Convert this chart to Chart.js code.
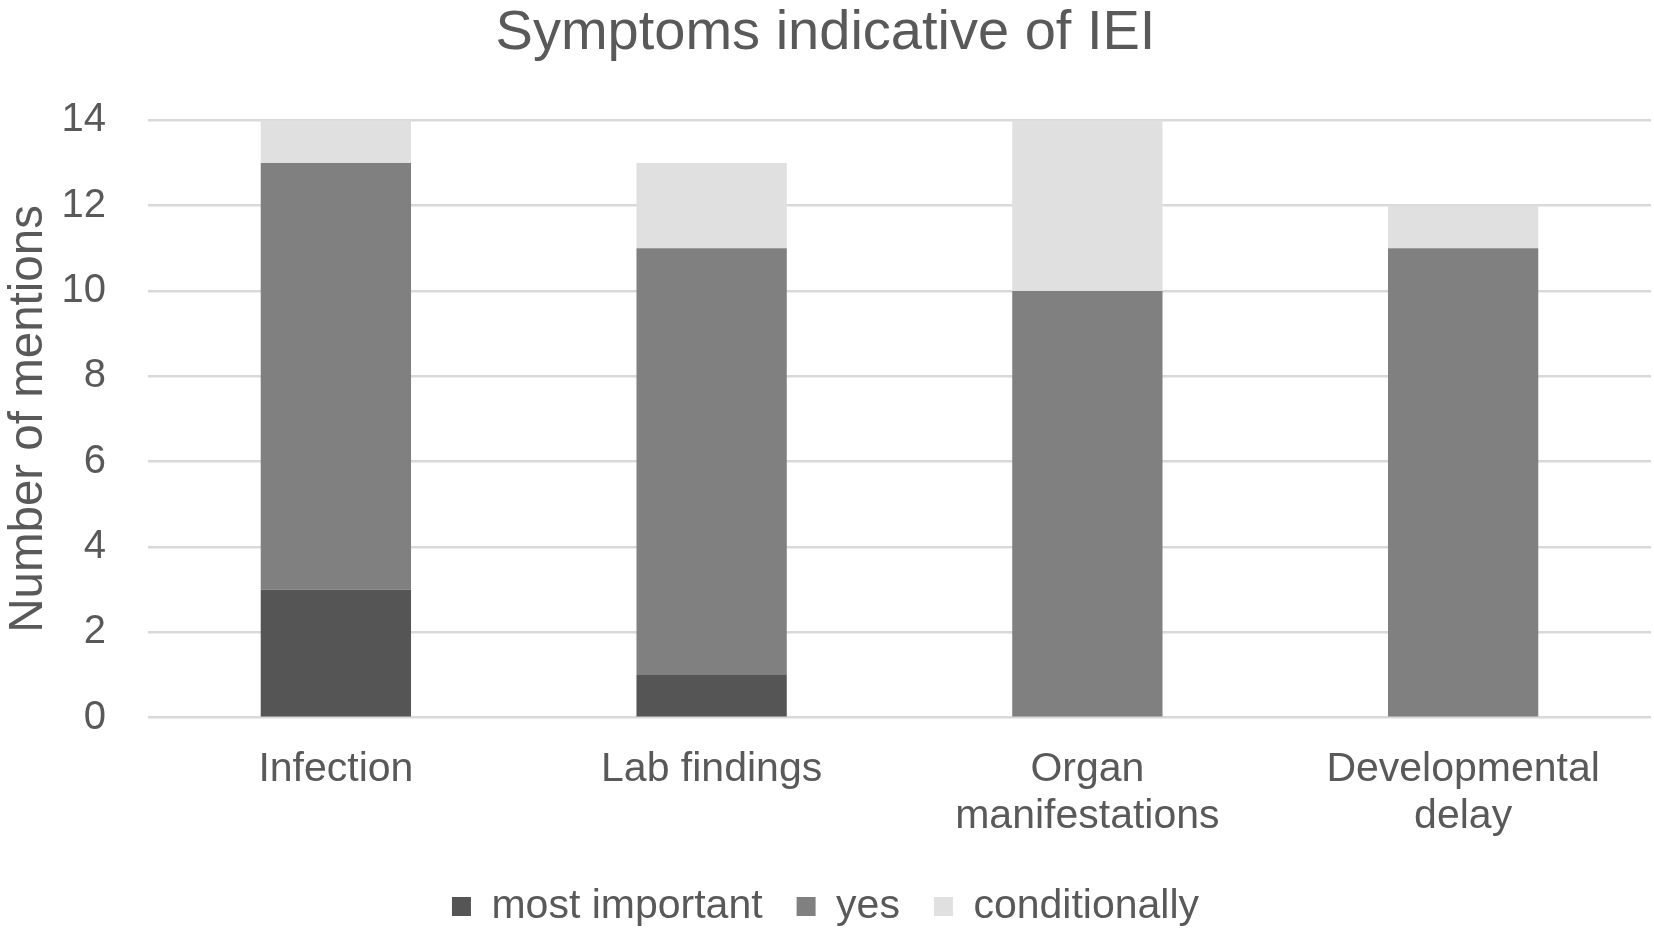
<!DOCTYPE html>
<html>
<head>
<meta charset="utf-8">
<script src="https://cdn.jsdelivr.net/npm/chart.js@4/dist/chart.umd.min.js"></script>
<style>
html,body{margin:0;padding:0;background:#fff;}
#wrap{width:1654px;height:932px;position:relative;}
</style>
</head>
<body>
<div id="wrap"><canvas id="c"></canvas></div>
<script>
const categories = [["Infection"], ["Lab findings"], ["Organ", "manifestations"], ["Developmental", "delay"]];
const mostImportant = [3, 1, 0, 0];
const yes = [10, 10, 10, 11];
const conditionally = [1, 2, 4, 1];
const yTicks = [0, 2, 4, 6, 8, 10, 12, 14];

const textColor = '#595959';
const fam = '"Liberation Sans", Arial, sans-serif';

new Chart(document.getElementById('c'), {
  type: 'bar',
  data: {
    labels: categories,
    datasets: [
      { label: 'most important', data: mostImportant, backgroundColor: '#555555' },
      { label: 'yes', data: yes, backgroundColor: '#808080' },
      { label: 'conditionally', data: conditionally, backgroundColor: '#e0e0e0' }
    ]
  },
  options: {
    responsive: true,
    maintainAspectRatio: false,
    devicePixelRatio: 1,
    animation: false,
    layout: { padding: { left: 0, right: 3, top: 0, bottom: -5 } },
    datasets: { bar: { categoryPercentage: 1, barPercentage: 0.4 } },
    plugins: {
      title: {
        display: true,
        text: 'Symptoms indicative of IEI',
        color: textColor,
        font: { family: fam, size: 56, weight: 'normal', lineHeight: 1.2 },
        padding: { top: 0, bottom: 53 }
      },
      legend: {
        position: 'bottom',
        labels: {
          color: textColor,
          font: { family: fam, size: 41 },
          boxWidth: 19,
          boxHeight: 19,
          padding: 34
        }
      },
      tooltip: { enabled: false }
    },
    scales: {
      x: {
        stacked: true,
        grid: { display: false },
        border: { display: false },
        afterFit: (axis) => { axis.height -= 8; },
        ticks: {
          color: textColor,
          font: { family: fam, size: 41, lineHeight: 1.15 },
          padding: 20,
          maxRotation: 0
        }
      },
      y: {
        stacked: true,
        min: 0,
        max: 14,
        afterBuildTicks: (axis) => { axis.ticks = yTicks.map(v => ({ value: v })); },
        afterFit: (axis) => { axis.width = 148; },
        grid: { color: '#d9d9d9', lineWidth: 2.5, drawTicks: false },
        border: { display: false },
        ticks: {
          color: textColor,
          font: { family: fam, size: 40 },
          padding: 42
        },
        title: {
          display: true,
          text: 'Number of mentions',
          color: textColor,
          font: { family: fam, size: 47.5, lineHeight: 1.2 },
          padding: { top: 0, bottom: 4 }
        }
      }
    }
  }
});
</script>
</body>
</html>
